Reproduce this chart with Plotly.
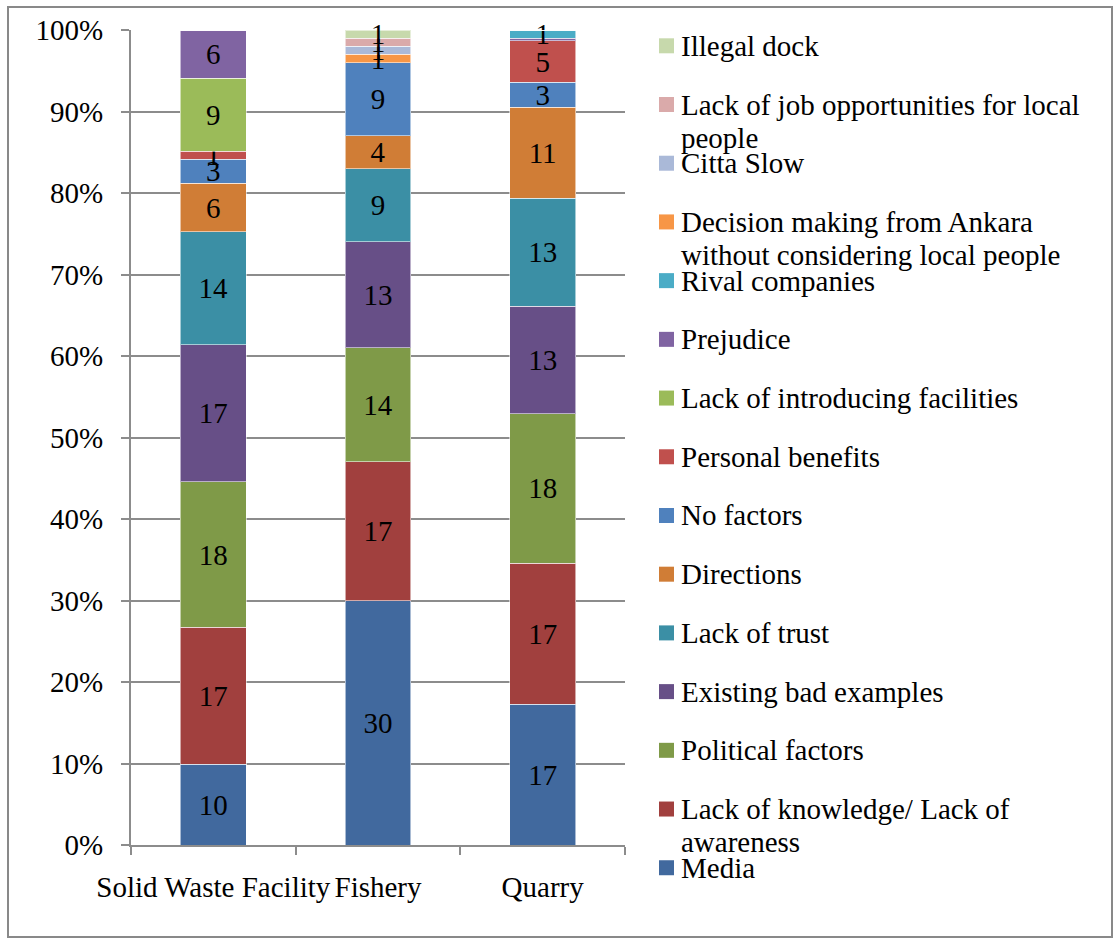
import plotly.graph_objects as go

# Categories along the x axis
categories = ["Solid Waste Facility", "Fishery", "Quarry"]

# Stacked series, bottom to top (values per category)
media = [10, 30, 17]
lack_of_knowledge = [17, 17, 17]
political_factors = [18, 14, 18]
existing_bad_examples = [17, 13, 13]
lack_of_trust = [14, 9, 13]
directions = [6, 4, 11]
no_factors = [3, 9, 3]
personal_benefits = [1, 0, 5]
lack_of_introducing = [9, 0, 0]
prejudice = [6, 0, 0.3]
rival_companies = [0, 0, 1]
decision_from_ankara = [0, 1, 0]
citta_slow = [0, 1, 0]
lack_of_job = [0, 1, 0]
illegal_dock = [0, 1, 0]

series_names = [
    "Media",
    "Lack of knowledge/ Lack of\nawareness",
    "Political factors",
    "Existing bad examples",
    "Lack of trust",
    "Directions",
    "No factors",
    "Personal benefits",
    "Lack of introducing facilities",
    "Prejudice",
    "Rival companies",
    "Decision making from Ankara\nwithout considering local people",
    "Citta Slow",
    "Lack of job opportunities for local\npeople",
    "Illegal dock",
]
series_values = [
    media, lack_of_knowledge, political_factors, existing_bad_examples,
    lack_of_trust, directions, no_factors, personal_benefits,
    lack_of_introducing, prejudice, rival_companies, decision_from_ankara,
    citta_slow, lack_of_job, illegal_dock,
]
series_colors = [
    "#41699E", "#A1403E", "#7F9A48", "#674F87", "#3B8FA5",
    "#D07D36", "#4F81BD", "#C0504D", "#9BBB59", "#8064A2",
    "#4BACC6", "#F79646", "#AAB9D8", "#DAAAAA", "#C7D9AC",
]
y_ticks = [0, 10, 20, 30, 40, 50, 60, 70, 80, 90, 100]
y_tick_labels = [f"{t}%" for t in y_ticks]

FONT = "'Liberation Serif', 'Times New Roman', Times, serif"
FS = 29
GRID = "#8C8C8C"

# Plot-area pixel frame inside the 1120x940 page
W, H = 1120, 940
L, R, T, B = 131, 625, 30, 845


def px_x(px):
    return (px - L) / (R - L)


def px_y(py):
    return (B - py) / (B - T)


fig = go.Figure()
for name, vals, color in zip(series_names, series_values, series_colors):
    labels = [str(int(v)) if v >= 1 else "" for v in vals]
    fig.add_trace(go.Bar(
        x=categories,
        y=vals,
        name=name.replace("\n", " "),
        marker=dict(color=color, line=dict(color="rgba(255,255,255,0.55)", width=1)),
        text=labels,
        textposition="inside",
        insidetextanchor="middle",
        textfont=dict(family=FONT, size=FS, color="black"),
        textangle=0,
        cliponaxis=False,
        showlegend=False,
    ))

shapes = [
    # Chart border
    dict(type="rect", xref="paper", yref="paper",
         x0=px_x(8), x1=px_x(1112), y0=px_y(937), y1=px_y(7),
         line=dict(color="#898989", width=2), fillcolor="rgba(0,0,0,0)"),
]
annotations = []

# Legend: top entry is the last series
legend_top, legend_step = 45.8, 58.71
for i, (name, color) in enumerate(zip(series_names[::-1], series_colors[::-1])):
    cy = legend_top + i * legend_step
    shapes.append(dict(type="rect", xref="paper", yref="paper",
                       x0=px_x(659), x1=px_x(674), y0=px_y(cy + 7.5), y1=px_y(cy - 7.5),
                       line=dict(width=0), fillcolor=color))
    for j, line in enumerate(name.split("\n")):
        annotations.append(dict(
            xref="paper", yref="paper", x=px_x(679), y=px_y(cy + j * 33),
            xanchor="left", yanchor="middle", text=line, showarrow=False,
            font=dict(family=FONT, size=FS, color="black"),
        ))

fig.update_layout(
    width=W, height=H,
    margin=dict(l=L, r=W - R, t=T, b=H - B, pad=0, autoexpand=False),
    barmode="stack",
    barnorm="percent",
    bargap=0.6,
    plot_bgcolor="white",
    paper_bgcolor="white",
    font=dict(family=FONT, size=FS, color="black"),
    uniformtext=dict(minsize=FS, mode="show"),
    shapes=shapes,
    annotations=annotations,
)
fig.update_yaxes(
    range=[0, 100],
    tickvals=y_ticks,
    ticktext=y_tick_labels,
    showgrid=True, gridcolor=GRID, gridwidth=2,
    showline=True, linecolor=GRID, linewidth=2,
    ticks="outside", ticklen=8, tickcolor=GRID, tickwidth=2,
    ticklabelstandoff=12,
    zeroline=False,
    automargin=False,
    tickfont=dict(family=FONT, size=FS, color="black"),
)
fig.update_xaxes(
    showgrid=False,
    showline=True, linecolor=GRID, linewidth=2,
    ticks="outside", ticklen=8, tickcolor=GRID, tickwidth=2,
    tickson="boundaries",
    tickangle=0,
    ticklabelstandoff=15,
    automargin=False,
    tickfont=dict(family=FONT, size=FS, color="black"),
)

fig.write_html("out.html")
